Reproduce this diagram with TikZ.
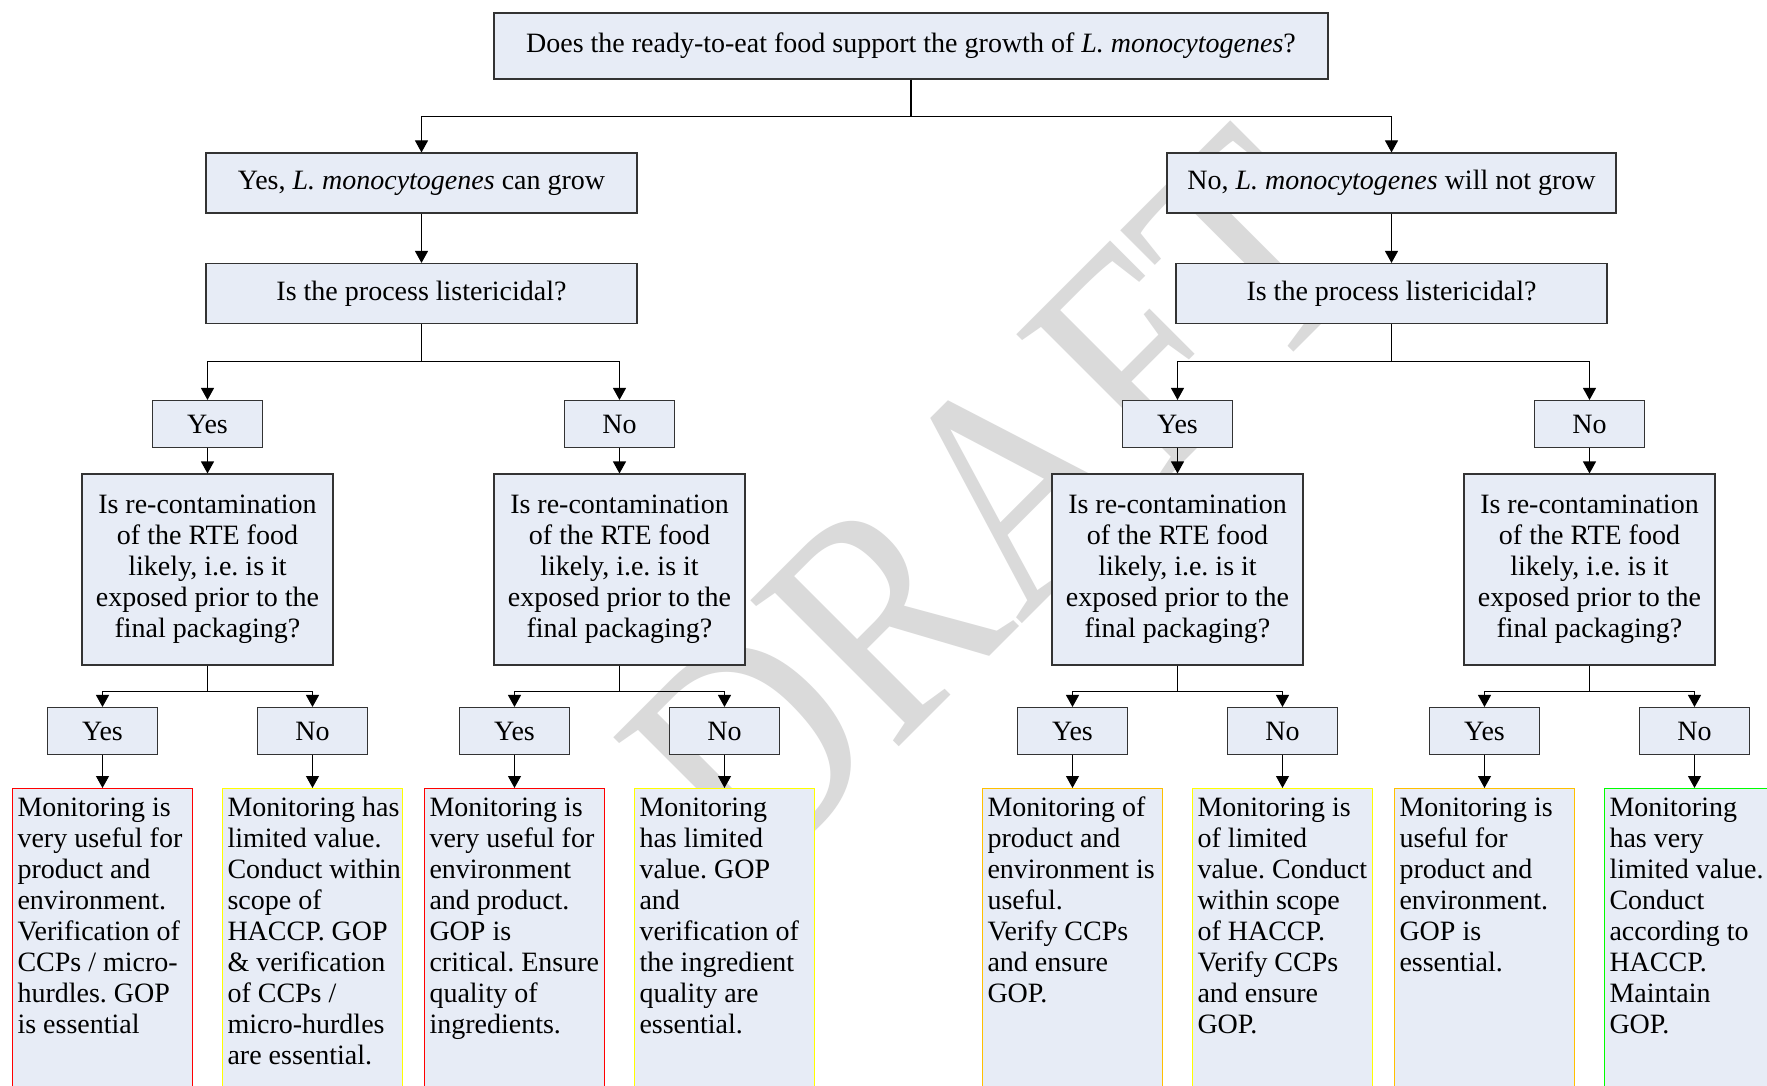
\documentclass[tikz,border=0pt]{standalone}
\usepackage{fontspec}
\setmainfont{Liberation Serif}
\usetikzlibrary{arrows.meta, trees}
\frenchspacing

\definecolor{boxfill}{HTML}{E7ECF6}
\definecolor{draftgray}{HTML}{DADADA}
\definecolor{outred}{HTML}{FF0000}
\definecolor{outyellow}{HTML}{FFFF00}
\definecolor{outorange}{HTML}{FFC000}
\definecolor{outgreen}{HTML}{00FF00}

\newcommand{\outlines}[1]{\makebox[170pt][l]{\begin{tabular}[t]{@{}l@{}}#1\end{tabular}}}

\begin{document}
\begin{tikzpicture}[x=1pt, y=1pt,
            box/.style={draw=black!80, fill=boxfill, line width=1.1pt, inner sep=0pt,
                align=center, font=\fontsize{28}{31}\selectfont},
            wide/.style={box, minimum width=#1, minimum height=60pt},
            answer/.style={box, minimum width=110pt, minimum height=47pt},
            query/.style={box, minimum width=251pt, minimum height=191pt},
            outcome/.style={box, draw=#1, anchor=north, inner xsep=5pt, inner ysep=6.7pt, text depth=330pt},
            elbow/.style={edge from parent path={(\tikzparentnode.south) -- ++(0,-#1) -| (\tikzchildnode.north)}},
            edge from parent/.style={draw, line width=1.1pt, -{Triangle[length=12pt,width=13pt]}},
            level 1/.style={grow via three points={one child at (0,-137) and two children at (-489.5,-137) and (480.5,-137)}, elbow=37},
            level 2/.style={grow via three points={one child at (0,-110.5) and two children at (0,-110.5) and (0,-110.5)}, elbow=10},
            level 3/.style={grow via three points={one child at (0,-130.5) and two children at (-214,-130.5) and (198,-130.5)}, elbow=37.5},
            level 4/.style={grow via three points={one child at (0,-145.5) and two children at (0,-145.5) and (0,-145.5)}, elbow=10},
            level 5/.style={grow via three points={one child at (0,-161.5) and two children at (-105,-161.5) and (105,-161.5)}, elbow=26},
            level 6/.style={grow via three points={one child at (0,-57) and two children at (0,-57) and (0,-57)}, elbow=10}]
        \useasboundingbox (0,0) rectangle (1767,-1086);
        \clip (0,0) rectangle (1767,-1086);
        \fill[white] (0,0) rectangle (1767,-1086);
        \node[text=draftgray, rotate=45, xscale=0.9, yscale=1.06, transform shape,
            font=\fontsize{300}{300}\selectfont] (draft) at (994,-504) {DRAFT};
        \node[box, minimum width=834pt, minimum height=66pt] (growth) at (911,-46)
            {Does the ready-to-eat food support the growth of \textit{L. monocytogenes}?}
            child {node[wide=431pt] (grows) {Yes, \textit{L. monocytogenes} can grow}
                child {node[wide=431pt] (procL) {Is the process listericidal?}
                    child {node[answer] (procLyes) {Yes}
                        child {node[query] (recontA) {Is re-contamination\\of the RTE food\\likely, i.e. is it\\exposed prior to the\\final packaging?}
                            child {node[answer] (recontAyes) {Yes}
                                child {node[outcome=outred] (monA) {\outlines{Monitoring is\\very useful for\\product and\\environment.\\Verification of\\CCPs / micro-\\hurdles. GOP\\is essential}}}}
                            child {node[answer] (recontAno) {No}
                                child {node[outcome=outyellow] (monB) {\outlines{Monitoring has\\limited value.\\Conduct within\\scope of\\HACCP. GOP\\\& verification\\of CCPs /\\micro-hurdles\\are essential.}}}}}}
                    child {node[answer] (procLno) {No}
                        child {node[query] (recontB) {Is re-contamination\\of the RTE food\\likely, i.e. is it\\exposed prior to the\\final packaging?}
                            child {node[answer] (recontByes) {Yes}
                                child {node[outcome=outred] (monC) {\outlines{Monitoring is\\very useful for\\environment\\and product.\\GOP is\\critical. Ensure\\quality of\\ingredients.}}}}
                            child {node[answer] (recontBno) {No}
                                child {node[outcome=outyellow] (monD) {\outlines{Monitoring\\has limited\\value. GOP\\and\\verification of\\the ingredient\\quality are\\essential.}}}}}}}}
            child {node[wide=449pt] (nogrow) {No, \textit{L. monocytogenes} will not grow}
                child {node[wide=431pt] (procR) {Is the process listericidal?}
                    child {node[answer] (procRyes) {Yes}
                        child {node[query] (recontC) {Is re-contamination\\of the RTE food\\likely, i.e. is it\\exposed prior to the\\final packaging?}
                            child {node[answer] (recontCyes) {Yes}
                                child {node[outcome=outorange] (monE) {\outlines{Monitoring of\\product and\\environment is\\useful.\\Verify CCPs\\and ensure\\GOP.}}}}
                            child {node[answer] (recontCno) {No}
                                child {node[outcome=outyellow] (monF) {\outlines{Monitoring is\\of limited\\value. Conduct\\within scope\\of HACCP.\\Verify CCPs\\and ensure\\GOP.}}}}}}
                    child {node[answer] (procRno) {No}
                        child {node[query] (recontD) {Is re-contamination\\of the RTE food\\likely, i.e. is it\\exposed prior to the\\final packaging?}
                            child {node[answer] (recontDyes) {Yes}
                                child {node[outcome=outorange] (monG) {\outlines{Monitoring is\\useful for\\product and\\environment.\\GOP is\\essential.}}}}
                            child {node[answer] (recontDno) {No}
                                child {node[outcome=outgreen] (monH) {\outlines{Monitoring\\has very\\limited value.\\Conduct\\according to\\HACCP.\\Maintain\\GOP.}}}}}}}};
\end{tikzpicture}
\end{document}
